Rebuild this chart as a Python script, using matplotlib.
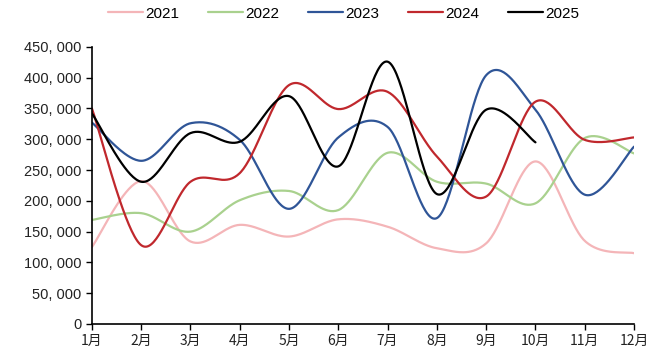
import matplotlib.pyplot as plt
import numpy as np
from matplotlib.ticker import FuncFormatter

plt.rcParams['font.family'] = ['Liberation Sans', 'Noto Sans CJK SC', 'DejaVu Sans']

months = [f'{i}月' for i in range(1, 13)]
years = ['2021', '2022', '2023', '2024', '2025']
colors = ['#F4B5B8', '#A9D18E', '#2F5597', '#C0282D', '#000000']

v2021 = [125000, 232000, 134000, 161000, 142000, 170000, 158000, 123000, 131000, 264000, 135000, 115000]
v2022 = [169000, 180000, 150000, 201000, 216000, 185000, 278000, 231000, 228000, 196000, 302000, 277000]
v2023 = [327000, 265000, 326000, 299000, 187000, 303000, 320000, 172000, 404000, 348000, 210000, 288000]
v2024 = [350000, 128000, 231000, 245000, 388000, 349000, 377000, 272000, 207000, 361000, 299000, 303000]
v2025 = [342000, 231000, 310000, 296000, 370000, 256000, 426000, 211000, 348000, 295000]
series = [v2021, v2022, v2023, v2024, v2025]


def smooth(xs, ys, n=40):
    # Excel-style smoothed line: cubic Bezier segments through every point
    xs = np.asarray(xs, float)
    ys = np.asarray(ys, float)
    px = np.concatenate([[xs[0]], xs, [xs[-1]]])
    py = np.concatenate([[ys[0]], ys, [ys[-1]]])
    t = np.linspace(0, 1, n)
    ox, oy = [], []
    for i in range(1, len(px) - 2):
        p0 = np.array([px[i], py[i]])
        p3 = np.array([px[i + 1], py[i + 1]])
        c1 = p0 + (np.array([px[i + 1], py[i + 1]]) - np.array([px[i - 1], py[i - 1]])) / 6
        c2 = p3 - (np.array([px[i + 2], py[i + 2]]) - np.array([px[i], py[i]])) / 6
        b = ((1 - t) ** 3)[:, None] * p0 + (3 * (1 - t) ** 2 * t)[:, None] * c1 \
            + (3 * (1 - t) * t ** 2)[:, None] * c2 + (t ** 3)[:, None] * p3
        ox.extend(b[:, 0])
        oy.extend(b[:, 1])
    return ox, oy


fig = plt.figure(figsize=(6.66, 3.58), dpi=100)
ax = fig.add_axes([0.138, 0.095, 0.814, 0.774])

for name, vals, c in zip(years, series, colors):
    x = np.arange(1, len(vals) + 1)
    sx, sy = smooth(x, vals)
    ax.plot(sx, sy, color=c, lw=1.6, label=name, solid_capstyle='round')

ax.set_xlim(1, 12)
ax.set_ylim(0, 450000)
ax.set_xticks(np.arange(1, 13))
ax.set_xticklabels(months, fontsize=10, family=['Noto Sans CJK SC', 'DejaVu Sans'])
ax.set_yticks(np.arange(0, 450001, 50000))
ax.yaxis.set_major_formatter(FuncFormatter(lambda v, p: '0' if v == 0 else f'{int(v):,}'.replace(',', ', ')))
ax.tick_params(axis='y', labelsize=10.5, direction='out', length=4, width=1, colors='black', labelcolor='#222222')
ax.tick_params(axis='x', direction='out', length=4, width=1, pad=3, labelcolor='#222222')
for s in ['top', 'right']:
    ax.spines[s].set_visible(False)
for s in ['left', 'bottom']:
    ax.spines[s].set_linewidth(1.2)
    ax.spines[s].set_color('black')

fig.legend(loc='upper center', bbox_to_anchor=(0.516, 1.02), ncol=5, frameon=False,
           prop={'size': 11}, handlelength=2.3, columnspacing=1.88, handletextpad=0.15)

fig.savefig('out.png', dpi=100)
